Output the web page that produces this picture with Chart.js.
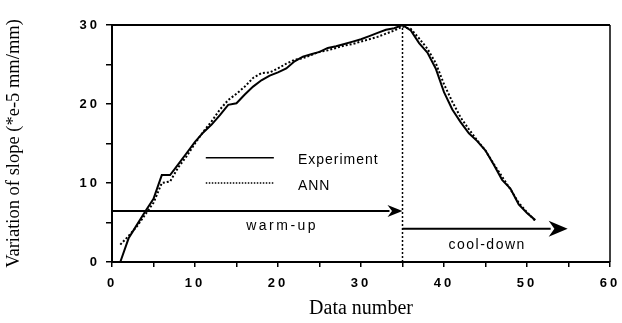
<!DOCTYPE html>
<html>
<head>
<meta charset="utf-8">
<script src="https://cdn.jsdelivr.net/npm/chart.js@4.4.0/dist/chart.umd.min.js"></script>
<style>
    body { margin: 0; background: #fff; }
    canvas { display: block; }
</style>
</head>
<body>
<canvas id="myChart" width="622" height="323"></canvas>
<script>
const dataNumber = [1, 2, 3, 4, 5, 6, 7, 8, 9, 10, 11, 12, 13, 14, 15, 16, 17, 18, 19, 20,
                    21, 22, 23, 24, 25, 26, 27, 28, 29, 30, 31, 32, 33, 34, 35, 36, 37, 38, 39, 40,
                    41, 42, 43, 44, 45, 46, 47, 48, 49, 50, 51];
const experiment = [0, 3, 4.7, 6.4, 8, 11, 11, 12.4, 13.8, 15.2, 16.4, 17.4, 18.6, 19.9, 20.1, 21.2, 22.2, 23, 23.6, 24,
                    24.5, 25.4, 26, 26.3, 26.6, 27.1, 27.3, 27.6, 27.9, 28.2, 28.6, 29, 29.4, 29.6, 30, 29.3, 27.7, 26.5, 24.5, 21.5,
                    19.3, 17.7, 16.3, 15.3, 14.1, 12.3, 10.4, 9.3, 7.3, 6.2, 5.3];
const ann = [2.2, 3.3, 4.5, 6, 7.5, 10, 10.2, 12, 13.4, 15, 16.5, 17.8, 19.3, 20.5, 21.3, 22.2, 23.3, 23.9, 24, 24.5,
             25.1, 25.6, 25.8, 26.2, 26.6, 26.8, 27.1, 27.4, 27.6, 27.9, 28.2, 28.5, 28.9, 29.3, 29.8, 29.5, 28.3, 27, 25.2, 22.5,
             20.3, 18.3, 16.8, 15.4, 14.1, 12.4, 10.8, 9.2, 7.5, 6.3, 5.2];
const seriesNames = ['Experiment', 'ANN'];
const phaseLabels = ['warm-up', 'cool-down'];

const sans = '"Liberation Sans", Arial, sans-serif';
const serif = '"Liberation Serif", "Times New Roman", serif';

function toPoints(values){
    return values.map((v, i) => ({x: dataNumber[i], y: v}))
}

function arrow(ctx, x1, x2, y, headLen, headHalf){
    ctx.beginPath();
    ctx.moveTo(x1, y);
    ctx.lineTo(x2 - headLen + 2, y);
    ctx.stroke();
    ctx.beginPath();
    ctx.moveTo(x2, y);
    ctx.lineTo(x2 - headLen, y - headHalf);
    ctx.lineTo(x2 - headLen * 0.7, y);
    ctx.lineTo(x2 - headLen, y + headHalf);
    ctx.closePath();
    ctx.fill();
}

// frame, legend, warm-up / cool-down arrows
const annotations = {
    id: 'annotations',
    afterDatasetsDraw(chart){
        const {ctx, chartArea: area, scales: {x, y}} = chart;
        ctx.save();
        ctx.strokeStyle = '#000';
        ctx.fillStyle = '#000';

        ctx.lineWidth = 2;
        ctx.beginPath();
        ctx.moveTo(area.left, area.top);
        ctx.lineTo(area.right, area.top);
        ctx.stroke();
        ctx.lineWidth = 1.5;
        ctx.beginPath();
        ctx.moveTo(area.right, area.top);
        ctx.lineTo(area.right, area.bottom);
        ctx.stroke();

        // end of warm-up
        ctx.setLineDash([2, 2]);
        ctx.lineWidth = 1.5;
        ctx.beginPath();
        ctx.moveTo(x.getPixelForValue(35), y.getPixelForValue(0));
        ctx.lineTo(x.getPixelForValue(35), y.getPixelForValue(30));
        ctx.stroke();

        // legend
        const lx1 = x.getPixelForValue(11.3), lx2 = x.getPixelForValue(19.5);
        const ly1 = y.getPixelForValue(13.2), ly2 = y.getPixelForValue(10);
        ctx.setLineDash([]);
        ctx.lineWidth = 1.5;
        ctx.beginPath();
        ctx.moveTo(lx1, ly1);
        ctx.lineTo(lx2, ly1);
        ctx.stroke();
        ctx.setLineDash([1.5, 1.5]);
        ctx.beginPath();
        ctx.moveTo(lx1, ly2);
        ctx.lineTo(lx2, ly2);
        ctx.stroke();
        ctx.setLineDash([]);
        ctx.font = '14px ' + sans;
        ctx.textBaseline = 'middle';
        ctx.textAlign = 'left';
        ctx.letterSpacing = '1px';
        const tx = x.getPixelForValue(22.4);
        ctx.fillText(seriesNames[0], tx, ly1 + 2);
        ctx.fillText(seriesNames[1], tx, ly2 + 3);

        // phase arrows
        ctx.lineWidth = 2;
        const wy = y.getPixelForValue(6.45);
        arrow(ctx, x.getPixelForValue(0), x.getPixelForValue(35), wy, 15, 6);
        const cy = y.getPixelForValue(4.2);
        arrow(ctx, x.getPixelForValue(35), x.getPixelForValue(54.9), cy, 19, 8);

        ctx.textAlign = 'center';
        ctx.letterSpacing = '2.5px';
        ctx.fillText(phaseLabels[0], x.getPixelForValue(20.5), wy + 15);
        ctx.letterSpacing = '1.5px';
        ctx.fillText(phaseLabels[1], x.getPixelForValue(45.2), cy + 16);
        ctx.restore();

        // tick labels are drawn after this hook (ticks z = 1)
        ctx.letterSpacing = '3px';
    },
    afterDraw(chart){
        chart.ctx.letterSpacing = '0px';
    }
}

const ctx = document.getElementById('myChart').getContext('2d');
const myChart = new Chart(ctx, {
    type: 'line',
    data: {
        datasets: [{
            label: seriesNames[0],
            data: toPoints(experiment),
            borderColor: '#000',
            borderWidth: 2,
            pointRadius: 0,
            tension: 0
        }, {
            label: seriesNames[1],
            data: toPoints(ann),
            borderColor: '#000',
            borderWidth: 2,
            borderDash: [2, 2],
            pointRadius: 0,
            tension: 0
        }]
    },
    options: {
        responsive: false,
        animation: false,
        clip: false,
        layout: {
            padding: {left: 0, top: 25, right: 12, bottom: 0}
        },
        plugins: {
            legend: { display: false },
            tooltip: { enabled: false }
        },
        scales: {
            x: {
                type: 'linear',
                min: 0,
                max: 60,
                afterFit(scale){
                    scale.height = 61;
                    scale.paddingLeft = 0;
                    scale.paddingRight = 0;
                },
                border: { color: '#000', width: 2 },
                grid: {
                    drawOnChartArea: false,
                    color: '#000',
                    lineWidth: 1.5,
                    tickLength: 5
                },
                ticks: {
                    z: 1,
                    stepSize: 5,
                    autoSkip: false,
                    maxRotation: 0,
                    color: '#000',
                    padding: 9,
                    font: { family: sans, size: 13, weight: 'bold' },
                    callback: (v) => v % 10 === 0 ? String(v) : ''
                },
                title: {
                    display: true,
                    text: 'Data number',
                    color: '#000',
                    font: { family: serif, size: 20 },
                    padding: { top: 0, bottom: 2 }
                }
            },
            y: {
                min: 0,
                max: 30,
                afterFit(scale){
                    scale.width = 112;
                    scale.paddingTop = 0;
                    scale.paddingBottom = 0;
                },
                border: { color: '#000', width: 2 },
                grid: {
                    drawOnChartArea: false,
                    color: '#000',
                    lineWidth: 1.5,
                    tickLength: 6
                },
                ticks: {
                    z: 1,
                    stepSize: 5,
                    autoSkip: false,
                    color: '#000',
                    padding: 6,
                    font: { family: sans, size: 13, weight: 'bold' },
                    callback: (v) => v % 10 === 0 ? String(v) : ''
                },
                title: {
                    display: true,
                    text: 'Variation of slope (*e-5 mm/mm)',
                    color: '#000',
                    font: { family: serif, size: 18.5 },
                    padding: { top: 3, bottom: 4 }
                }
            }
        }
    },
    plugins: [annotations]
});
</script>
</body>
</html>
